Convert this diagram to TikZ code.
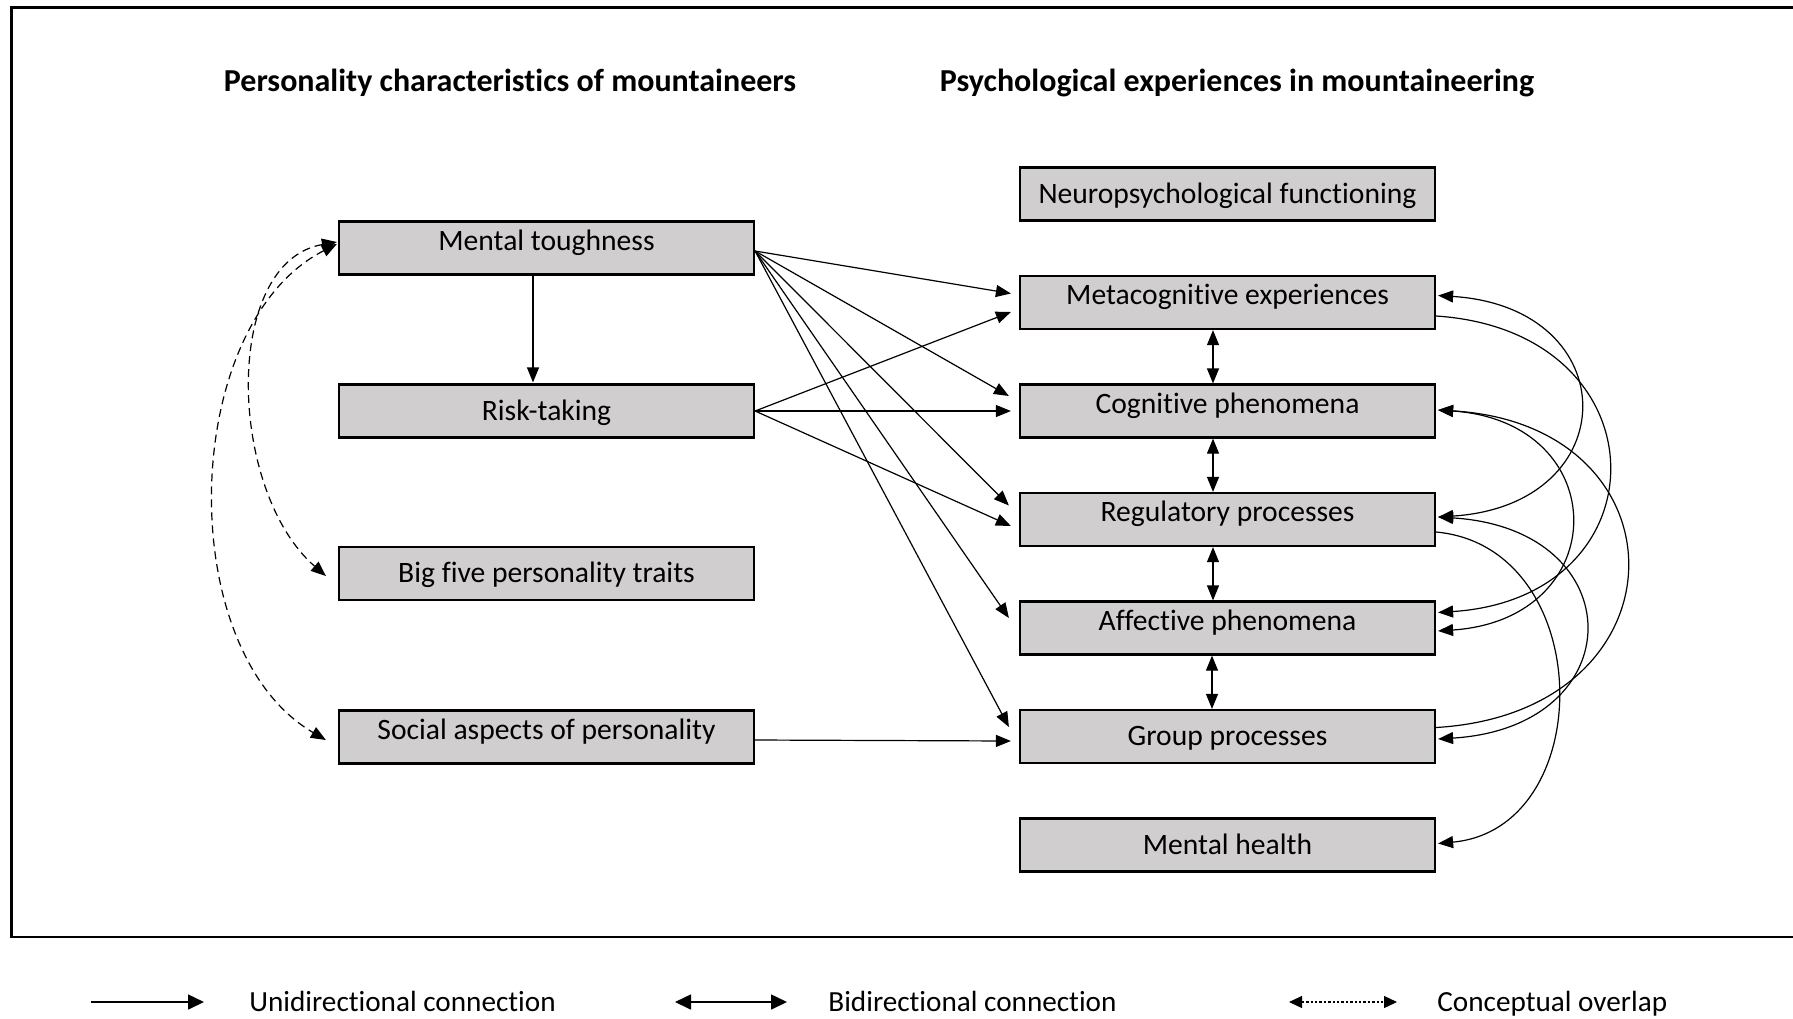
\documentclass[tikz,border=0pt]{standalone}
\usepackage{fontspec}
\setmainfont{Carlito}[Ligatures=NoCommon]
\usetikzlibrary{arrows.meta,calc}
\definecolor{boxgray}{HTML}{D0CECE}
\begin{document}
\begin{tikzpicture}[x=0.5pt,y=-0.5pt,
  every node/.style={font=\fontsize{14.8}{17}\selectfont},
  box/.style={draw=black, line width=1.1pt, fill=boxgray, minimum width=207.5pt,
    minimum height=26.5pt, inner sep=0pt, text height=10pt, text depth=0.7pt},
  raised/.style={text depth=7.7pt},
  title/.style={font=\fontsize{16}{19}\selectfont\bfseries},
  legtext/.style={anchor=west, inner sep=0pt, text height=10pt, text depth=0.7pt,
    font=\fontsize{14.6}{17}\selectfont},
  conn/.style={line width=0.6pt, -{Triangle[length=7.5pt,width=6pt]}},
  biconn/.style={line width=0.6pt, {Triangle[length=7.5pt,width=6pt]}-{Triangle[length=7.5pt,width=6pt]}},
  overlap/.style={line width=0.6pt, dash pattern=on 4pt off 2.5pt,
    {Triangle[length=7.5pt,width=6pt]}-{Triangle[length=7.5pt,width=6pt]}},
  legconn/.style={line width=0.8pt, -{Triangle[length=8pt,width=7.5pt]}},
  legbi/.style={line width=0.8pt, {Triangle[length=8pt,width=7.5pt]}-{Triangle[length=8pt,width=7.5pt]}},
  legover/.style={line width=0.6pt, dash pattern=on 1.2pt off 1pt,
    {Triangle[length=6.5pt,width=6pt]}-{Triangle[length=6.5pt,width=6pt]}},
]
\path[use as bounding box] (0,0) rectangle (1793,1018);
\clip (0,0) rectangle (1793,1018);

% frame
\draw[line width=1.4pt] (11.3,7.3) rectangle (1840,937);

% titles
\node[title] (t1) at (510,83) {Personality characteristics of mountaineers};
\node[title] (t2) at (1237,83) {Psychological experiences in mountaineering};

% left boxes
\node[box,raised] (MT) at (546.5,248) {Mental toughness};
\node[box] (RT) at (546.5,411) {Risk-taking};
\node[box] (BF) at (546.5,573.5) {Big five personality traits};
\node[box,raised] (SA) at (546.5,737) {Social aspects of personality};

% right boxes
\node[box] (NF) at (1227.5,194) {Neuropsychological functioning};
\node[box,raised] (ME) at (1227.5,302.5) {Metacognitive experiences};
\node[box,raised] (CP) at (1227.5,411) {Cognitive phenomena};
\node[box,raised] (RP) at (1227.5,519.5) {Regulatory processes};
\node[box,raised] (AP) at (1227.5,628) {Affective phenomena};
\node[box] (GP) at (1227.5,736.5) {Group processes};
\node[box] (MH) at (1227.5,845) {Mental health};

% straight unidirectional connections
\draw[conn] ([shift={(-13.5,0)}]MT.south) -- ([shift={(-13.5,-1)}]RT.north);
\draw[conn] ([shift={(0,3)}]MT.east) -- ([shift={(-8,-9)}]ME.west);
\draw[conn] (RT.east) -- ([shift={(-8,9.5)}]ME.west);
\draw[conn] ([shift={(0,3)}]MT.east) -- ([shift={(-10,-15)}]CP.west);
\draw[conn] (RT.east) -- ([shift={(-8,0)}]CP.west);
\draw[conn] ([shift={(0,3)}]MT.east) -- ([shift={(-10,-14)}]RP.west);
\draw[conn] (RT.east) -- ([shift={(-8,6.5)}]RP.west);
\draw[conn] ([shift={(0,3)}]MT.east) -- ([shift={(-10,-10)}]AP.west);
\draw[conn] ([shift={(0,3)}]MT.east) -- ([shift={(-10,-9.5)}]GP.west);
\draw[conn] ([shift={(0,3)}]SA.east) -- ([shift={(-8,4.5)}]GP.west);

% vertical bidirectional
\draw[biconn] ([shift={(-14.5,0)}]ME.south) -- ([shift={(-14.5,0)}]CP.north);
\draw[biconn] ([shift={(-14.5,0)}]CP.south) -- ([shift={(-14.5,0)}]RP.north);
\draw[biconn] ([shift={(-14.5,0)}]RP.south) -- ([shift={(-14.5,0)}]AP.north);
\draw[biconn] ([shift={(-15.5,0)}]AP.south) -- ([shift={(-15.5,0)}]GP.north);

% right curved connections
\draw[biconn] ([shift={(2,-7)}]ME.east)
  .. controls ($(ME.east)+(190,5)$) and ($(RP.east)+(190,-14.5)$) .. ([shift={(2,-2.5)}]RP.east);
\draw[conn] ([shift={(0,13.5)}]ME.east)
  .. controls ($(ME.east)+(229,28.5)$) and ($(AP.east)+(231,-30.5)$) .. ([shift={(2,-15.5)}]AP.east);
\draw[biconn] ([shift={(2,-1)}]CP.east)
  .. controls ($(CP.east)+(178,11)$) and ($(AP.east)+(178,-9)$) .. ([shift={(2,3)}]AP.east);
\draw[conn] ([shift={(0,-9)}]GP.east)
  .. controls ($(GP.east)+(253,-24)$) and ($(CP.east)+(255,14)$) .. ([shift={(2,-1)}]CP.east);
\draw[biconn] ([shift={(2,-2.5)}]RP.east)
  .. controls ($(RP.east)+(197,9.5)$) and ($(GP.east)+(197,-9.5)$) .. ([shift={(2,2.5)}]GP.east);
\draw[conn] ([shift={(0,12.5)}]RP.east)
  .. controls ($(RP.east)+(161,27.5)$) and ($(MH.east)+(163,-16.5)$) .. ([shift={(2,-1.5)}]MH.east);

% left dashed conceptual overlaps
\draw[overlap] ([shift={(-1,-6)}]MT.west)
  .. controls ($(MT.west)+(-116,14)$) and ($(BF.west)+(-110,-82.5)$) .. ([shift={(-12,2.5)}]BF.west);
\draw[overlap] ([shift={(-1,-4)}]MT.west)
  .. controls ($(MT.west)+(-158,76)$) and ($(SA.west)+(-166,-87)$) .. ([shift={(-12,3)}]SA.west);

% legend
\coordinate (l1a) at (91,1002);
\coordinate (l1b) at (204,1002);
\coordinate (l2a) at (675,1002);
\coordinate (l2b) at (787,1002);
\coordinate (l3a) at (1289,1002);
\coordinate (l3b) at (1397,1002);
\draw[legconn] (l1a) -- (l1b);
\draw[legbi] (l2a) -- (l2b);
\draw[legover] (l3a) -- (l3b);
\node[legtext] (lt1) at (249,1002) {Unidirectional connection};
\node[legtext] (lt2) at (828,1002) {Bidirectional connection};
\node[legtext] (lt3) at (1437,1002) {Conceptual overlap};
\end{tikzpicture}
\end{document}
